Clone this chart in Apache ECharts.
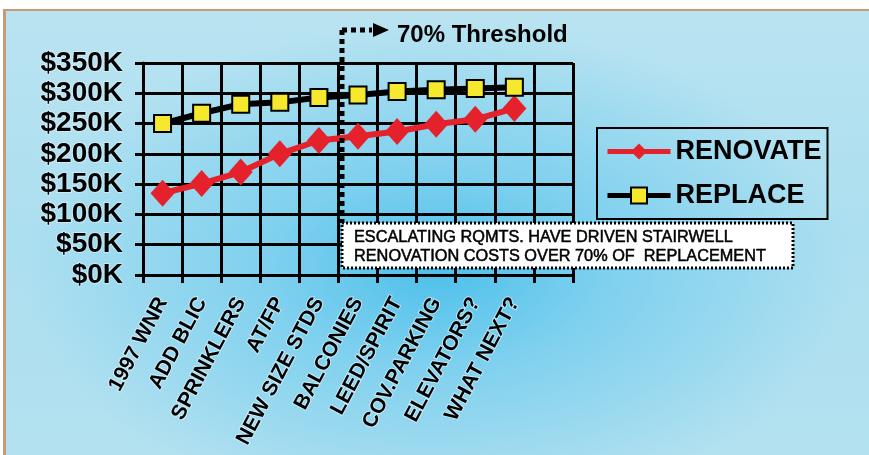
<!DOCTYPE html>
<html>
<head>
<meta charset="utf-8">
<script src="https://cdn.jsdelivr.net/npm/echarts@6/dist/echarts.min.js"></script>
<style>
  html, body { margin: 0; padding: 0; background: #ffffff; }
  #frame {
    position: absolute; left: 3px; top: 9px; width: 866px; height: 446px;
    border-top: 2px solid #c69c74; border-left: 3px solid #c69c74;
    box-sizing: border-box;
    background:
      radial-gradient(ellipse 48% 55% at 50% 58%, rgba(72,190,234,0.95) 0%, rgba(110,203,238,0.75) 40%, rgba(170,222,241,0) 100%),
      linear-gradient(180deg, #b9e3f1 0%, #acdff0 50%, #b3e1f0 100%);
  }
  #chart { position: absolute; left: 0; top: 0; width: 869px; height: 455px; }
</style>
</head>
<body>
<div id="frame"></div>
<div id="chart"></div>
<script>
// Stairwell cost steps: renovation vs. full replacement (USD)
const categories = ['1997 WNR', 'ADD BLIC', 'SPRINKLERS', 'AT/FP', 'NEW SIZE STDS',
                    'BALCONIES', 'LEED/SPIRIT', 'COV.PARKING', 'ELEVATORS?', 'WHAT NEXT?'];
const renovate = [135000, 151000, 170000, 200000, 222000, 229000, 237000, 249000, 257000, 275000];
const replace  = [250000, 267000, 282000, 285000, 293000, 297000, 303000, 306000, 308000, 310000];
const yTicks = [0, 50000, 100000, 150000, 200000, 250000, 300000, 350000];
const thresholdText = '70% Threshold';
const noteLines = ['ESCALATING RQMTS. HAVE DRIVEN STAIRWELL', 'RENOVATION COSTS OVER 70% OF  REPLACEMENT'];

const FONT = "'Liberation Sans', Arial, sans-serif";
const chart = echarts.init(document.getElementById('chart'), null, { renderer: 'canvas' });

// one spare slot at the right end of the category axis
const xData = categories.concat(['']);

const option = {
  backgroundColor: 'transparent',
  animation: false,
  grid: { left: 143, right: 296, top: 63, bottom: 180 },
  legend: {
    left: 597, top: 128,
    orient: 'vertical',
    data: ['RENOVATE', 'REPLACE'],
    itemWidth: 63, itemHeight: 20, itemGap: 17,
    padding: [10, 6, 10, 8],
    borderColor: '#000', borderWidth: 2,
    selectedMode: false,
    lineStyle: { width: 5 },
    textStyle: { fontFamily: FONT, fontWeight: 'bold', fontSize: 27, color: '#000' }
  },
  xAxis: {
    type: 'category',
    data: xData,
    boundaryGap: true,
    axisLine: { lineStyle: { color: '#000', width: 3 } },
    axisTick: { show: true, length: 8, lineStyle: { color: '#000', width: 3 } },
    splitLine: { show: true, lineStyle: { color: '#000', width: 3 } },
    axisLabel: {
      interval: 0, rotate: 62, margin: 24,
      fontFamily: FONT, fontWeight: 'bold', fontSize: 21, color: '#000',
      textBorderColor: 'rgba(235,250,255,0.6)', textBorderWidth: 2
    }
  },
  yAxis: {
    type: 'value',
    min: yTicks[0], max: yTicks[yTicks.length - 1], interval: yTicks[1] - yTicks[0],
    axisLine: { show: true, lineStyle: { color: '#000', width: 3 } },
    axisTick: { show: true, length: 8, lineStyle: { color: '#000', width: 3 } },
    splitLine: { show: true, lineStyle: { color: '#000', width: 3 } },
    axisLabel: {
      margin: 20,
      fontFamily: FONT, fontWeight: 'bold', fontSize: 28, color: '#000',
      textBorderColor: 'rgba(235,250,255,0.5)', textBorderWidth: 2,
      formatter: v => '$' + (v / 1000) + 'K'
    }
  },
  series: [
    {
      name: 'RENOVATE', type: 'line', data: renovate,
      symbol: 'diamond', symbolSize: [24, 27],
      lineStyle: { color: '#e5222b', width: 6 },
      itemStyle: { color: '#e5222b' },
      z: 3
    },
    {
      name: 'REPLACE', type: 'line', data: replace,
      symbol: 'rect', symbolSize: 17,
      lineStyle: { color: '#000', width: 6 },
      itemStyle: { color: '#f6e82c', borderColor: '#000', borderWidth: 2 },
      z: 4
    }
  ]
};
chart.setOption(option);

// threshold marker sits just right of the boundary between slots 4 and 5
const xa = chart.convertToPixel({ xAxisIndex: 0 }, 4);
const xb = chart.convertToPixel({ xAxisIndex: 0 }, 5);
const tx = Math.round((xa + xb) / 2) + 4;
const ty = 30;
const boxTop = 223, boxBottom = 268, boxRight = 793;

chart.setOption({
  graphic: [
    { type: 'line', shape: { x1: tx, y1: ty, x2: tx, y2: boxTop },
      style: { stroke: '#000', lineWidth: 5, lineDash: [5, 4] }, z: 10 },
    { type: 'line', shape: { x1: tx, y1: ty, x2: tx + 30, y2: ty },
      style: { stroke: '#000', lineWidth: 5, lineDash: [5, 4] }, z: 10 },
    { type: 'polygon', shape: { points: [[tx + 31, ty - 7], [tx + 31, ty + 7], [tx + 47, ty]] },
      style: { fill: '#000' }, z: 10 },
    { type: 'text', x: tx + 55, y: ty + 5,
      style: { text: thresholdText, fill: '#000', font: 'bold 24px ' + FONT, textVerticalAlign: 'middle' }, z: 10 },
    { type: 'rect', shape: { x: tx, y: boxTop, width: boxRight - tx, height: boxBottom - boxTop },
      style: { fill: '#ffffff', stroke: '#000', lineWidth: 3, lineDash: [2, 2] }, z: 10 },
    { type: 'text', x: tx + 12, y: boxTop + 15,
      style: { text: noteLines[0], fill: '#000', font: '16.3px ' + FONT, textVerticalAlign: 'middle',
               stroke: '#000', lineWidth: 0.5 }, z: 11 },
    { type: 'text', x: tx + 12, y: boxTop + 34,
      style: { text: noteLines[1], fill: '#000', font: '16.3px ' + FONT, textVerticalAlign: 'middle',
               stroke: '#000', lineWidth: 0.5 }, z: 11 }
  ]
});
</script>
</body>
</html>
